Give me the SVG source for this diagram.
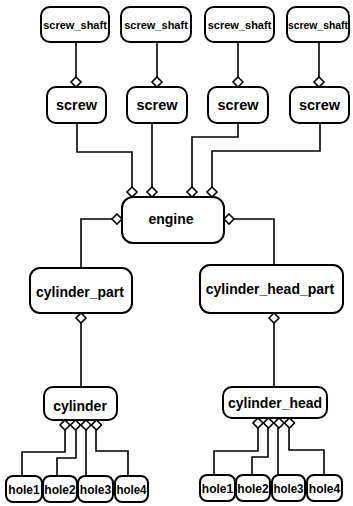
<svg xmlns="http://www.w3.org/2000/svg" xmlns:xlink="http://www.w3.org/1999/xlink" width="353" height="506" viewBox="0 0 353 506">
  <style>
    .box { fill: #fff; stroke: #000; stroke-width: 2; }
    .lbl { font-family: "Liberation Sans", Arial, sans-serif; font-weight: bold; fill: #000; text-anchor: middle; }
    .s11 { font-size: 11px; }
    .s12 { font-size: 12px; }
    .s14 { font-size: 14px; }
    .s15 { font-size: 15px; }
    .wire { fill: none; stroke: #000; stroke-width: 1.6; }
    .dia { fill: #fff; stroke: #000; stroke-width: 1.6; }
  </style>
  <defs>
    <!-- aggregation diamond centred on the origin -->
    <path id="dia" class="dia" d="M0,-5 L5,0 L0,5 L-5,0 Z"/>
  </defs>
  <rect width="353" height="506" fill="#fff"/>

  <!-- connectors -->
  <g id="connectors">
    <path class="wire" d="M76,42 V77"/>
    <path class="wire" d="M157,42 V77"/>
    <path class="wire" d="M238,42 V77"/>
    <path class="wire" d="M319,42 V77"/>

    <path class="wire" d="M77,123 V152 H132 V187"/>
    <path class="wire" d="M152,123 V187"/>
    <path class="wire" d="M238,123 V137 H192 V187"/>
    <path class="wire" d="M320,123 V151 H212 V187"/>

    <path class="wire" d="M112,219 H81 V268"/>
    <path class="wire" d="M234,219 H274 V265"/>

    <path class="wire" d="M81,323 V387"/>
    <path class="wire" d="M274,323 V387"/>

    <path class="wire" d="M65,430 V452 H22 V476"/>
    <path class="wire" d="M76,430 V458 H57 V476"/>
    <path class="wire" d="M86,430 V476"/>
    <path class="wire" d="M96,430 V451 H128 V476"/>

    <path class="wire" d="M258,428 V451 H214 V475"/>
    <path class="wire" d="M268,428 V457 H252 V475"/>
    <path class="wire" d="M278,428 V475"/>
    <path class="wire" d="M289,428 V450 H324 V475"/>

    <use xlink:href="#dia" x="76" y="82"/>
    <use xlink:href="#dia" x="157" y="82"/>
    <use xlink:href="#dia" x="238" y="82"/>
    <use xlink:href="#dia" x="319" y="82"/>

    <use xlink:href="#dia" x="132" y="192"/>
    <use xlink:href="#dia" x="152" y="192"/>
    <use xlink:href="#dia" x="192" y="192"/>
    <use xlink:href="#dia" x="212" y="192"/>

    <use xlink:href="#dia" x="117" y="219"/>
    <use xlink:href="#dia" x="229" y="219"/>

    <use xlink:href="#dia" x="81" y="318"/>
    <use xlink:href="#dia" x="274" y="318"/>

    <use xlink:href="#dia" x="65" y="425"/>
    <use xlink:href="#dia" x="75.5" y="425"/>
    <use xlink:href="#dia" x="86" y="425"/>
    <use xlink:href="#dia" x="96.5" y="425"/>

    <use xlink:href="#dia" x="258" y="423"/>
    <use xlink:href="#dia" x="268.5" y="423"/>
    <use xlink:href="#dia" x="279" y="423"/>
    <use xlink:href="#dia" x="289.5" y="423"/>
  </g>

  <!-- screw shafts -->
  <g id="screw_shaft_1"><rect class="box" x="41" y="7" width="68" height="35" rx="9"/><text class="lbl s11" x="75" y="29">screw_shaft</text></g>
  <g id="screw_shaft_2"><rect class="box" x="121" y="7" width="70" height="35" rx="9"/><text class="lbl s11" x="156" y="29">screw_shaft</text></g>
  <g id="screw_shaft_3"><rect class="box" x="205" y="7" width="69" height="35" rx="9"/><text class="lbl s11" x="239.5" y="29">screw_shaft</text></g>
  <g id="screw_shaft_4"><rect class="box" x="287" y="7" width="62" height="35" rx="9"/><text class="lbl s11" x="318" y="29" textLength="60" lengthAdjust="spacingAndGlyphs">screw_shaft</text></g>

  <!-- screws -->
  <g id="screw_1"><rect class="box" x="47" y="87" width="59" height="36" rx="9"/><text class="lbl s15" x="76.5" y="110" textLength="41" lengthAdjust="spacingAndGlyphs">screw</text></g>
  <g id="screw_2"><rect class="box" x="127" y="87" width="60" height="36" rx="9"/><text class="lbl s15" x="157" y="110" textLength="41" lengthAdjust="spacingAndGlyphs">screw</text></g>
  <g id="screw_3"><rect class="box" x="208" y="87" width="60" height="36" rx="9"/><text class="lbl s15" x="238" y="110" textLength="41" lengthAdjust="spacingAndGlyphs">screw</text></g>
  <g id="screw_4"><rect class="box" x="290" y="87" width="59" height="36" rx="9"/><text class="lbl s15" x="319.5" y="110" textLength="41" lengthAdjust="spacingAndGlyphs">screw</text></g>

  <!-- engine -->
  <g id="engine"><rect class="box" x="122" y="197" width="102" height="46" rx="11"/><text class="lbl s14" x="171" y="224">engine</text></g>

  <!-- parts -->
  <g id="cylinder_part"><rect class="box" x="30" y="268" width="102" height="45" rx="10"/><text class="lbl s14" x="80" y="297">cylinder_part</text></g>
  <g id="cylinder_head_part"><rect class="box" x="200" y="265" width="143" height="48" rx="10"/><text class="lbl s14" x="270" y="294">cylinder_head_part</text></g>

  <g id="cylinder"><rect class="box" x="44" y="387" width="73" height="33" rx="9"/><text class="lbl s14" x="80" y="411">cylinder</text></g>
  <g id="cylinder_head"><rect class="box" x="223" y="387" width="104" height="31" rx="9"/><text class="lbl s14" x="275" y="408">cylinder_head</text></g>

  <!-- holes under cylinder -->
  <g id="cyl_hole1"><rect class="box" x="6" y="476" width="36" height="26" rx="7"/><text class="lbl s12" x="24" y="494">hole1</text></g>
  <g id="cyl_hole2"><rect class="box" x="43" y="476" width="34" height="26" rx="7"/><text class="lbl s12" x="60" y="494">hole2</text></g>
  <g id="cyl_hole3"><rect class="box" x="78" y="476" width="35" height="26" rx="7"/><text class="lbl s12" x="95.5" y="494">hole3</text></g>
  <g id="cyl_hole4"><rect class="box" x="115" y="476" width="33" height="26" rx="7"/><text class="lbl s12" x="131.5" y="494" textLength="30" lengthAdjust="spacingAndGlyphs">hole4</text></g>

  <!-- holes under cylinder head -->
  <g id="head_hole1"><rect class="box" x="200" y="475" width="35" height="26" rx="7"/><text class="lbl s12" x="217.5" y="493">hole1</text></g>
  <g id="head_hole2"><rect class="box" x="236" y="475" width="34" height="26" rx="7"/><text class="lbl s12" x="253" y="493">hole2</text></g>
  <g id="head_hole3"><rect class="box" x="272" y="475" width="33" height="26" rx="7"/><text class="lbl s12" x="288.5" y="493" textLength="30" lengthAdjust="spacingAndGlyphs">hole3</text></g>
  <g id="head_hole4"><rect class="box" x="307" y="475" width="35" height="26" rx="7"/><text class="lbl s12" x="324.5" y="493">hole4</text></g>
</svg>
